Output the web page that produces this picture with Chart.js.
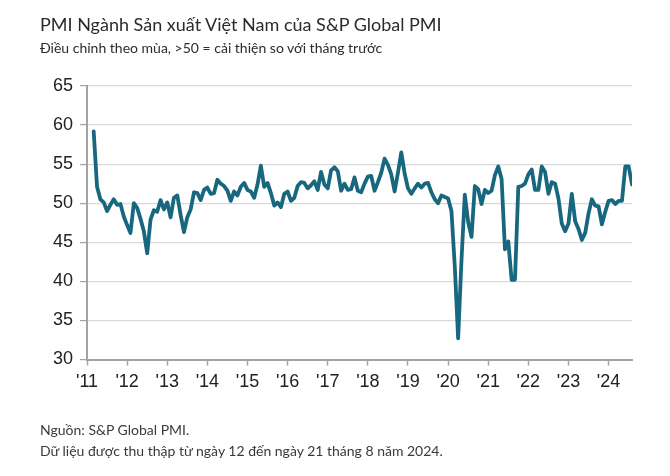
<!DOCTYPE html>
<html>
<head>
<meta charset="utf-8">
<script src="https://cdn.jsdelivr.net/npm/chart.js@4.4.1/dist/chart.umd.min.js"></script>
<style>
  html, body { margin: 0; padding: 0; background: #ffffff; }
  #wrap { position: relative; width: 670px; height: 476px; overflow: hidden; background: #fff; }
  #chartBox { position: absolute; left: 0; top: 0; width: 670px; height: 476px; }
  .txt { position: absolute; left: 40px; white-space: nowrap; color: #2b2b2b; font-family: Lato, "Open Sans", sans-serif; transform-origin: left center; }
  #title { top: 13px; font-size: 18px; }
  #subtitle { top: 39px; font-size: 14px; }
  #src1 { top: 421px; font-size: 14px; color: #3a3a3a; }
  #src2 { top: 442px; font-size: 14px; color: #3a3a3a; }
</style>
</head>
<body>
<div id="wrap">
  <div id="chartBox"><canvas id="c" width="670" height="476"></canvas></div>
  <div class="txt" id="title">PMI Ngành Sản xuất Việt Nam của S&amp;P Global PMI</div>
  <div class="txt" id="subtitle">Điều chỉnh theo mùa, &gt;50 = cải thiện so với tháng trước</div>
  <div class="txt" id="src1">Nguồn: S&amp;P Global PMI.</div>
  <div class="txt" id="src2">Dữ liệu được thu thập từ ngày 12 đến ngày 21 tháng 8 năm 2024.</div>
</div>
<script>
// ---- Data (monthly PMI, March 2011 – August 2024) ----
const firstYear = 2011;
const firstMonth = 3; // March
const pmi2011 = [59.2, 52.1, 50.5, 50.1, 49.0, 49.8, 50.5, 49.8, 49.9, 48.3];
const pmi2012 = [47.2, 46.2, 50.0, 49.4, 48.0, 46.4, 43.6, 47.9, 49.1, 48.9, 50.4, 49.2];
const pmi2013 = [50.1, 48.2, 50.7, 51.0, 48.5, 46.3, 48.2, 49.2, 51.4, 51.3, 50.4, 51.7];
const pmi2014 = [52.0, 51.2, 51.3, 53.0, 52.5, 52.2, 51.6, 50.3, 51.5, 51.0, 52.1, 52.6];
const pmi2015 = [51.7, 51.5, 50.7, 52.4, 54.8, 52.1, 52.6, 51.3, 49.7, 50.1, 49.5, 51.2];
const pmi2016 = [51.5, 50.3, 50.7, 52.2, 52.7, 52.6, 51.9, 52.3, 52.8, 51.7, 54.0, 52.4];
const pmi2017 = [51.9, 54.2, 54.6, 54.1, 51.6, 52.5, 51.7, 51.8, 53.3, 51.6, 51.4, 52.5];
const pmi2018 = [53.4, 53.5, 51.6, 52.7, 53.9, 55.7, 54.9, 53.7, 51.5, 53.9, 56.5, 53.8];
const pmi2019 = [51.9, 51.2, 51.9, 52.5, 52.0, 52.5, 52.6, 51.4, 50.5, 50.0, 51.0, 50.8];
const pmi2020 = [50.6, 49.0, 41.9, 32.7, 42.7, 51.1, 47.6, 45.7, 52.2, 51.8, 49.9, 51.7];
const pmi2021 = [51.3, 51.6, 53.6, 54.7, 53.1, 44.1, 45.1, 40.2, 40.2, 52.1, 52.2, 52.5];
const pmi2022 = [53.7, 54.3, 51.7, 51.7, 54.7, 54.0, 51.2, 52.7, 52.5, 50.6, 47.4, 46.4];
const pmi2023 = [47.4, 51.2, 47.7, 46.7, 45.3, 46.2, 48.7, 50.5, 49.7, 49.6, 47.3, 48.9];
const pmi2024 = [50.3, 50.4, 49.9, 50.3, 50.3, 54.7, 54.7, 52.4];

const tickYears = [2011, 2012, 2013, 2014, 2015, 2016, 2017, 2018, 2019, 2020, 2021, 2022, 2023, 2024];
const tickLabels = ["'11", "'12", "'13", "'14", "'15", "'16", "'17", "'18", "'19", "'20", "'21", "'22", "'23", "'24"];
const yTicks = [30, 35, 40, 45, 50, 55, 60, 65];

const pmiValues = [].concat(pmi2011, pmi2012, pmi2013, pmi2014, pmi2015, pmi2016, pmi2017,
  pmi2018, pmi2019, pmi2020, pmi2021, pmi2022, pmi2023, pmi2024);

// month positions (decimal year) for each value
const points = pmiValues.map((v, i) => {
  const mIndex = (firstMonth - 1) + i;
  return { x: firstYear + mIndex / 12, y: v };
});
const xMax = points[points.length - 1].x;

const axisGray = '#a3a3a3';

new Chart(document.getElementById('c'), {
  type: 'line',
  data: {
    datasets: [{
      data: points,
      borderColor: '#17687f',
      borderWidth: 3.8,
      pointRadius: 0,
      tension: 0,
      borderJoinStyle: 'round',
      borderCapStyle: 'round',
      fill: false
    }]
  },
  options: {
    responsive: false,
    animation: false,
    devicePixelRatio: 1,
    layout: { padding: { top: 86, right: 38, left: 0, bottom: 0 } },
    plugins: { legend: { display: false }, tooltip: { enabled: false } },
    scales: {
      x: {
        type: 'linear',
        min: firstYear,
        max: xMax,
        afterFit: (s) => { s.height = 116.5; },
        afterBuildTicks: (s) => { s.ticks = tickYears.map(v => ({ value: v })); },
        ticks: {
          autoSkip: false,
          maxRotation: 0,
          padding: 6,
          color: '#222',
          font: { family: '"Liberation Sans", Arial, sans-serif', size: 18 },
          callback: (v) => { const i = tickYears.indexOf(v); return i >= 0 ? tickLabels[i] : ''; }
        },
        grid: { display: true, drawOnChartArea: false, drawTicks: true, tickLength: 6, tickColor: axisGray, tickWidth: 1.5 },
        border: { display: true, color: axisGray, width: 2 }
      },
      y: {
        min: 30,
        max: 65,
        afterFit: (s) => { s.width = 87; },
        afterBuildTicks: (s) => { s.ticks = yTicks.map(v => ({ value: v })); },
        ticks: {
          padding: 7,
          color: '#222',
          font: { family: '"Liberation Sans", Arial, sans-serif', size: 18 }
        },
        grid: { color: '#d9d9d9', lineWidth: 1.2, drawTicks: true, tickLength: 7, tickColor: axisGray },
        border: { display: true, color: axisGray, width: 2 }
      }
    }
  }
});
</script>
</body>
</html>
